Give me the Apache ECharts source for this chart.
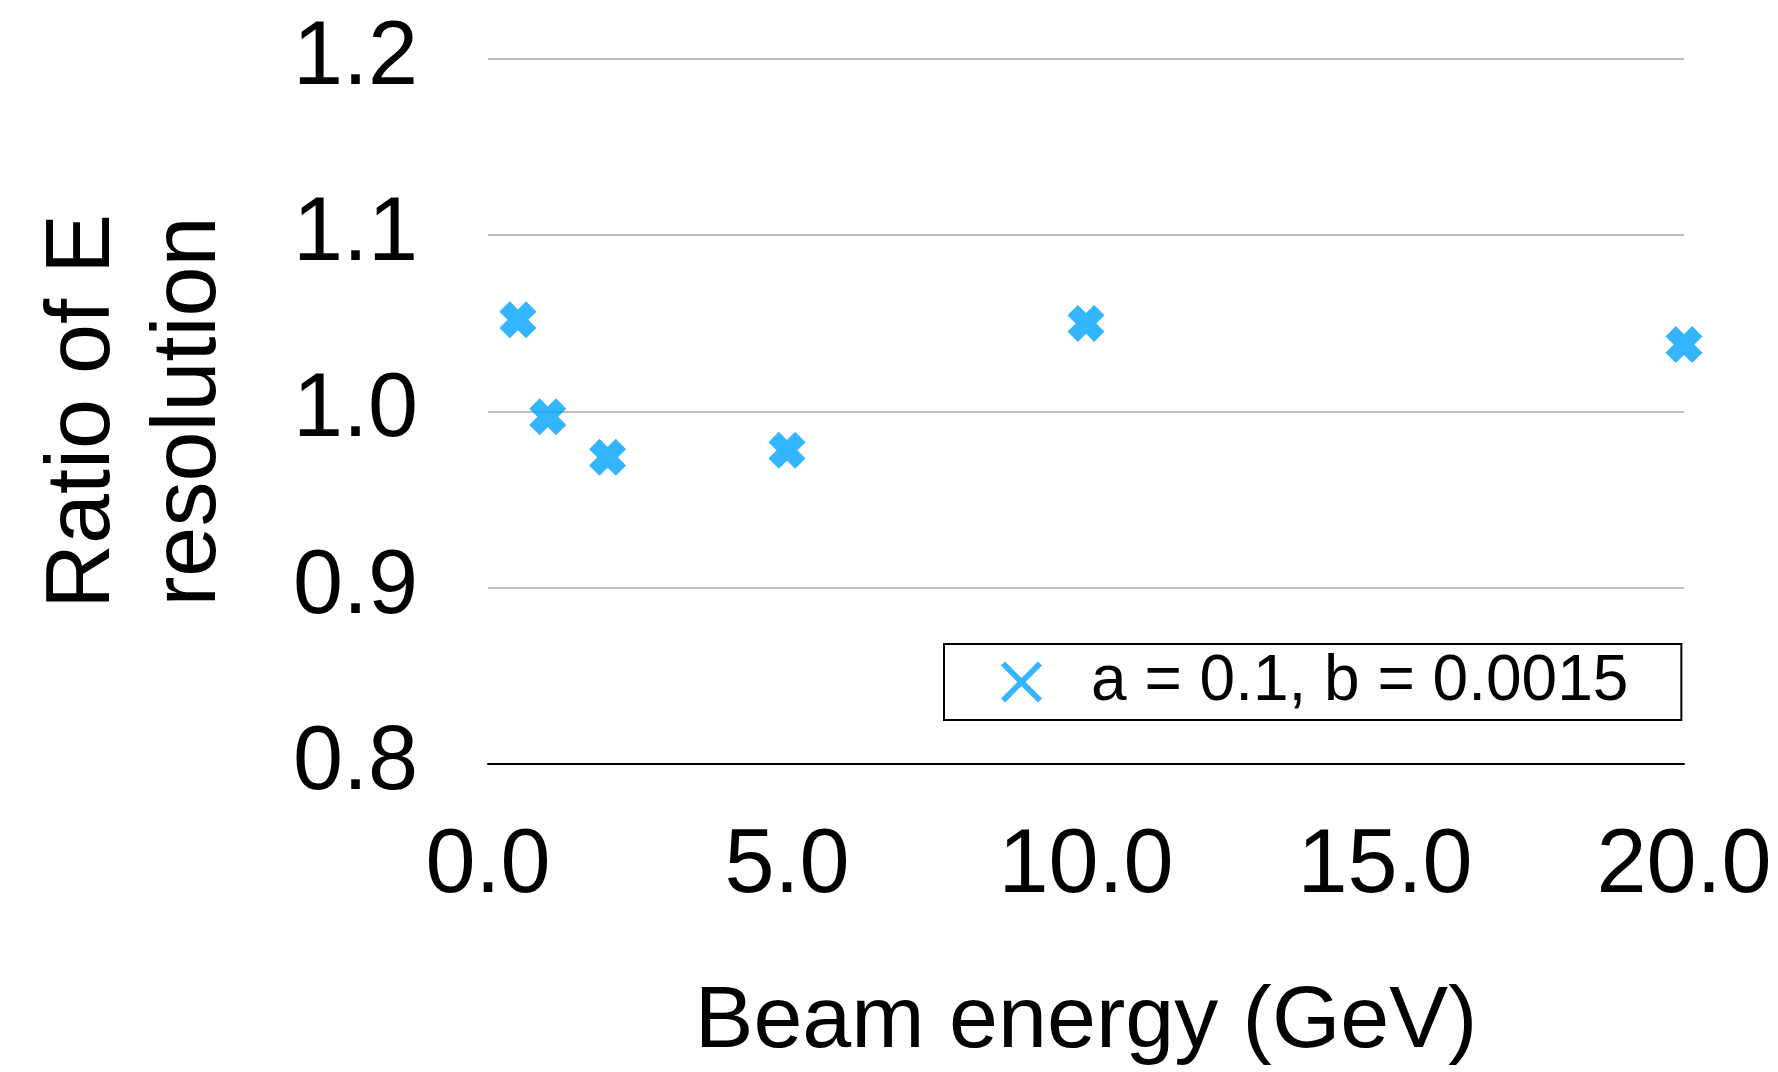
<!DOCTYPE html>
<html>
<head>
<meta charset="utf-8">
<script src="https://cdn.jsdelivr.net/npm/echarts@6/dist/echarts.min.js"></script>
<style>
  html, body { margin: 0; padding: 0; background: #ffffff; }
  #chart { width: 1778px; height: 1072px; }
</style>
</head>
<body>
<div id="chart"></div>
<script>
// Beam energies (GeV) and the measured ratio of energy resolution
const beamEnergy = [0.5, 1.0, 2.0, 5.0, 10.0, 20.0];
const resolutionRatio = [1.052, 0.997, 0.974, 0.978, 1.050, 1.038];
const seriesName = 'a = 0.1, b = 0.0015';
const xTicks = [0, 5, 10, 15, 20];
const yTicks = [0.8, 0.9, 1.0, 1.1, 1.2];

const FONT = 'Liberation Sans, Arial, Helvetica, sans-serif';
const BLUE = '#00A2FF';

// bold cross marker and thin cross legend icon
const boldCross = 'path://M0 28L28 0L50 22L72 0L100 28L78 50L100 72L72 100L50 78L28 100L0 72L22 50Z';
const thinCross = 'path://M0 10L10 0L50 40L90 0L100 10L60 50L100 90L90 100L50 60L10 100L0 90L40 50Z';

const points = beamEnergy.map((e, i) => [e, resolutionRatio[i]]);

const chart = echarts.init(document.getElementById('chart'), null, { renderer: 'canvas' });

chart.setOption({
  backgroundColor: '#ffffff',
  animation: false,
  textStyle: { fontFamily: FONT, color: '#000' },
  grid: { left: 488, right: 94, top: 59, bottom: 301, containLabel: false },
  legend: {
    left: 944,
    top: 644,
    orient: 'horizontal',
    padding: [6, 53, 6, 57],
    borderColor: '#000',
    borderWidth: 2,
    borderRadius: 0,
    backgroundColor: '#fff',
    itemWidth: 41,
    itemHeight: 41,
    selectedMode: false,
    data: [{ name: seriesName, icon: thinCross, itemStyle: { color: BLUE } }],
    textStyle: {
      fontFamily: FONT,
      fontSize: 64,
      lineHeight: 64,
      color: '#000',
      padding: [0, 0, 0, 44]
    }
  },
  xAxis: {
    type: 'value',
    min: xTicks[0],
    max: xTicks[xTicks.length - 1],
    interval: xTicks[1] - xTicks[0],
    name: 'Beam energy (GeV)',
    nameLocation: 'middle',
    nameGap: 215,
    nameTextStyle: { fontFamily: FONT, fontSize: 88, lineHeight: 88, color: '#000' },
    axisLine: { show: true, onZero: false, lineStyle: { color: '#000', width: 2 } },
    axisTick: { show: false },
    splitLine: { show: false },
    axisLabel: {
      margin: 58,
      fontFamily: FONT,
      fontSize: 90,
      lineHeight: 90,
      color: '#000',
      formatter: v => v.toFixed(1)
    }
  },
  yAxis: {
    type: 'value',
    min: yTicks[0],
    max: yTicks[yTicks.length - 1],
    interval: 0.1,
    name: 'Ratio of E\nresolution',
    nameLocation: 'middle',
    nameRotate: 90,
    nameGap: 245,
    nameTextStyle: { fontFamily: FONT, fontSize: 90, lineHeight: 106, color: '#000', align: 'center' },
    axisLine: { show: false },
    axisTick: { show: false },
    splitLine: { show: true, lineStyle: { color: '#bfbfbf', width: 2 } },
    axisLabel: {
      margin: 70,
      fontFamily: FONT,
      fontSize: 90,
      lineHeight: 90,
      color: '#000',
      padding: [6, 0, 0, 0],
      formatter: v => v.toFixed(1)
    }
  },
  series: [{
    name: seriesName,
    type: 'scatter',
    data: points,
    symbol: boldCross,
    symbolSize: 37,
    itemStyle: { color: BLUE },
    clip: false,
    z: 5
  }]
});
</script>
</body>
</html>
